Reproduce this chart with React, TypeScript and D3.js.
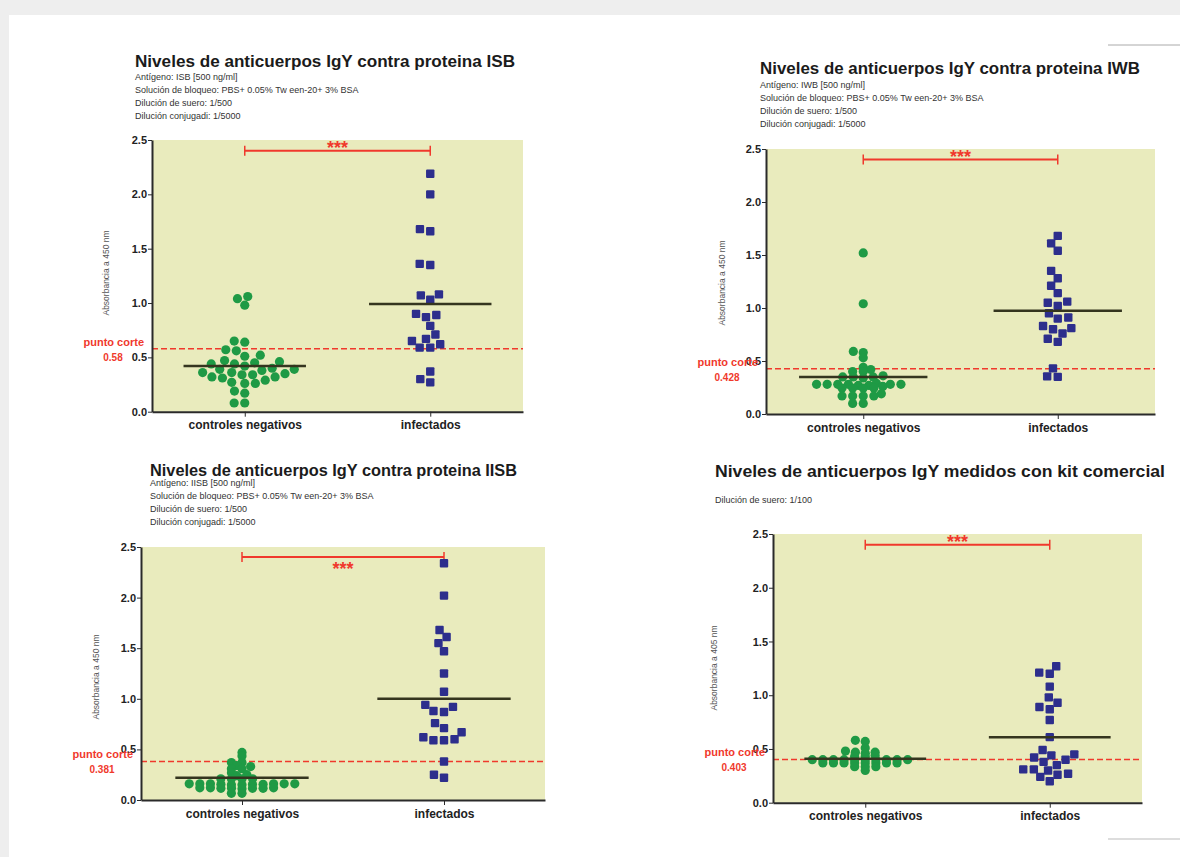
import React, { useEffect, useRef } from 'react';
import * as d3 from 'd3';

// categories and axis ticks shared by all four panels
const categories = ['controles negativos', 'infectados'];
const yTicks = [0, 0.5, 1, 1.5, 2, 2.5];

// absorbance values
const isbControles = [1.06, 1.04, 0.98, 0.65, 0.64, 0.57, 0.56, 0.52, 0.51, 0.47, 0.46, 0.45, 0.44, 0.44, 0.42, 0.4, 0.39, 0.39, 0.38, 0.36, 0.36, 0.35, 0.34, 0.34, 0.32, 0.32, 0.31, 0.29, 0.27, 0.26, 0.26, 0.19, 0.17, 0.08, 0.08];
const isbInfectados = [2.19, 2.0, 1.68, 1.66, 1.36, 1.35, 1.08, 1.07, 1.03, 0.9, 0.89, 0.87, 0.79, 0.71, 0.67, 0.65, 0.62, 0.59, 0.59, 0.37, 0.3, 0.27];

const iwbControles = [1.52, 1.04, 0.59, 0.58, 0.53, 0.44, 0.42, 0.4, 0.4, 0.36, 0.35, 0.35, 0.35, 0.34, 0.29, 0.28, 0.28, 0.28, 0.28, 0.28, 0.27, 0.27, 0.28, 0.26, 0.245, 0.245, 0.245, 0.245, 0.19, 0.17, 0.17, 0.17, 0.17, 0.1, 0.1];
const iwbInfectados = [1.68, 1.61, 1.54, 1.35, 1.28, 1.21, 1.14, 1.06, 1.05, 1.02, 0.95, 0.91, 0.9, 0.83, 0.81, 0.8, 0.76, 0.71, 0.68, 0.43, 0.355, 0.35];

const iisbControles = [0.47, 0.435, 0.37, 0.37, 0.34, 0.33, 0.31, 0.31, 0.27, 0.25, 0.24, 0.21, 0.21, 0.21, 0.21, 0.16, 0.155, 0.16, 0.15, 0.155, 0.16, 0.15, 0.16, 0.155, 0.16, 0.16, 0.12, 0.115, 0.115, 0.12, 0.11, 0.115, 0.12, 0.115, 0.066, 0.066];
const iisbInfectados = [2.34, 2.02, 1.68, 1.61, 1.55, 1.47, 1.25, 1.07, 0.94, 0.92, 0.88, 0.87, 0.76, 0.71, 0.67, 0.62, 0.6, 0.59, 0.59, 0.38, 0.25, 0.22];

const kitControles = [0.58, 0.57, 0.51, 0.48, 0.47, 0.47, 0.46, 0.44, 0.43, 0.43, 0.4, 0.4, 0.4, 0.4, 0.4, 0.4, 0.4, 0.4, 0.4, 0.4, 0.37, 0.37, 0.37, 0.37, 0.37, 0.37, 0.37, 0.37, 0.335, 0.335, 0.335, 0.3];
const kitInfectados = [1.27, 1.21, 1.2, 1.08, 0.98, 0.93, 0.89, 0.87, 0.77, 0.61, 0.49, 0.45, 0.44, 0.42, 0.4, 0.38, 0.35, 0.31, 0.31, 0.3, 0.27, 0.26, 0.24, 0.2];

const controles = [isbControles, iwbControles, iisbControles, kitControles];
const infectados = [isbInfectados, iwbInfectados, iisbInfectados, kitInfectados];
const meanControles = [0.42, 0.35, 0.22, 0.41];
const meanInfectados = [0.99, 0.975, 1.0, 0.61];
const cutoffs = [0.58, 0.428, 0.381, 0.403];
const cutoffLabels = ['0.58', '0.428', '0.381', '0.403'];
const sigLevel = 2.4;

const titles = [
  'Niveles de anticuerpos IgY contra proteina ISB',
  'Niveles de anticuerpos IgY contra proteina IWB',
  'Niveles de anticuerpos IgY contra proteina IISB',
  'Niveles de anticuerpos IgY medidos con kit comercial',
];
const subtitles = [
  ['Antígeno: ISB [500 ng/ml]', 'Solución de bloqueo: PBS+ 0.05% Tw een-20+ 3% BSA', 'Dilución de suero: 1/500', 'Dilución conjugadi: 1/5000'],
  ['Antígeno: IWB [500 ng/ml]', 'Solución de bloqueo: PBS+ 0.05% Tw een-20+ 3% BSA', 'Dilución de suero: 1/500', 'Dilución conjugadi: 1/5000'],
  ['Antígeno: IISB [500 ng/ml]', 'Solución de bloqueo: PBS+ 0.05% Tw een-20+ 3% BSA', 'Dilución de suero: 1/500', 'Dilución conjugadi: 1/5000'],
  ['Dilución de suero: 1/100'],
];
const yLabels = ['Absorbancia a 450 nm', 'Absorbancia a 450 nm', 'Absorbancia a 450 nm', 'Absorbancia a 405 nm'];

// where each panel sits on the page; ry = how close two rows of dots may sit before they push apart
const layout = [
  { axisX: 152, right: 523, top: 140, bottom: 411.7, titleX: 135, titleY: 67, titleW: 380, subY: 80, ylabX: 109, ylabY: 273, starsBelow: false, ry: 9 },
  { axisX: 766, right: 1155, top: 149, bottom: 414, titleX: 760, titleY: 74, titleW: 380, subY: 88, ylabX: 725, ylabY: 283, starsBelow: false, ry: 3 },
  { axisX: 141, right: 545, top: 547, bottom: 800, titleX: 150, titleY: 476, titleW: 367, subY: 486, ylabX: 99, ylabY: 677, starsBelow: true, ry: 3.5 },
  { axisX: 773, right: 1142, top: 534, bottom: 802.7, titleX: 715, titleY: 477, titleW: 450, subY: 503, ylabX: 717, ylabY: 668, starsBelow: false, ry: 3 },
];

const FONT = '"Liberation Sans", Arial, sans-serif';
const RED = '#f0392c';

// beeswarm with an elliptical footprint (step wide, ry tall)
function swarm(ys: number[], step: number, ry: number) {
  const order = ys.map((_, i) => i).sort((a, b) => ys[b] - ys[a]);
  const placed: { x: number; y: number }[] = [];
  const out = new Array(ys.length).fill(0);
  const hits = (cx: number, cy: number) =>
    placed.some((p) => ((p.x - cx) / step) ** 2 + ((p.y - cy) / ry) ** 2 < 0.999);
  order.forEach((i) => {
    const py = ys[i];
    const cands = [0];
    placed.forEach((p) => {
      const dy = Math.abs(p.y - py);
      if (dy < ry) {
        const dx = step * Math.sqrt(1 - (dy / ry) ** 2);
        cands.push(p.x + dx, p.x - dx);
      }
    });
    cands.sort((a, b) => Math.abs(a) - Math.abs(b) || a - b);
    const x = cands.find((cx) => !hits(cx, py)) ?? 0;
    placed.push({ x, y: py });
    out[i] = x;
  });
  return out;
}

function App() {
  const svgRef = useRef(null);

  useEffect(() => {
    if (!svgRef.current) return;
    const svg = d3.select(svgRef.current);
    svg.selectAll('*').remove();

    // scanned page look
    svg.append('rect').attr('width', 1180).attr('height', 857).attr('fill', '#eeeeee');
    svg.append('rect').attr('x', 9).attr('y', 15).attr('width', 1171).attr('height', 842).attr('fill', '#ffffff');
    svg.append('line').attr('x1', 1108).attr('x2', 1180).attr('y1', 45).attr('y2', 45).attr('stroke', '#aaa');
    svg.append('line').attr('x1', 1108).attr('x2', 1180).attr('y1', 839).attr('y2', 839).attr('stroke', '#bbb');

    layout.forEach((L, i) => {
      const g = svg.append('g');
      const y = d3.scaleLinear().domain([0, 2.5]).range([L.bottom, L.top]);
      const x = d3.scalePoint().domain(categories).range([L.axisX, L.right]).padding(0.5);
      const step = x.step();

      // titles
      g.append('text').attr('x', L.titleX).attr('y', L.titleY)
        .attr('font-family', FONT).attr('font-size', 16).attr('font-weight', 'bold').attr('fill', '#1b1b1b')
        .attr('textLength', L.titleW).attr('lengthAdjust', 'spacingAndGlyphs')
        .text(titles[i]);
      subtitles[i].forEach((s, k) => {
        g.append('text').attr('x', L.titleX).attr('y', L.subY + k * 13)
          .attr('font-family', FONT).attr('font-size', 9).attr('fill', '#333')
          .text(s);
      });

      // plot background
      g.append('rect').attr('x', L.axisX).attr('y', L.top)
        .attr('width', L.right - L.axisX).attr('height', L.bottom - L.top)
        .attr('fill', '#e9ebbd');

      // cut-off line
      const cyv = y(cutoffs[i]);
      g.append('line').attr('x1', L.axisX).attr('x2', L.right)
        .attr('y1', cyv).attr('y2', cyv)
        .attr('stroke', RED).attr('stroke-width', 1.5).attr('stroke-dasharray', '6,3');

      // significance bracket
      const x0 = x(categories[0]);
      const x1 = x(categories[1]);
      const sy = y(sigLevel);
      g.append('line').attr('x1', x0).attr('x2', x1).attr('y1', sy).attr('y2', sy)
        .attr('stroke', RED).attr('stroke-width', 2);
      [x0, x1].forEach((cx) => {
        g.append('line').attr('x1', cx).attr('x2', cx).attr('y1', sy - 5).attr('y2', sy + 5)
          .attr('stroke', RED).attr('stroke-width', 1.5);
      });
      g.append('text').attr('x', (x0 + x1) / 2).attr('y', L.starsBelow ? sy + 18 : sy + 3)
        .attr('text-anchor', 'middle').attr('font-family', FONT).attr('font-size', 18)
        .attr('font-weight', 'bold').attr('fill', RED).text('***');

      // green circles
      const cy = controles[i].map((v) => y(v));
      const cOff = swarm(cy, 10.6, L.ry);
      g.selectAll('circle.c').data(controles[i]).enter().append('circle')
        .attr('cx', (_, k) => x0 + cOff[k]).attr('cy', (d) => y(d)).attr('r', 4.6)
        .attr('fill', '#1f9a45');

      // blue squares
      const iy = infectados[i].map((v) => y(v));
      const iOff = swarm(iy, 10.6, 9.5);
      g.selectAll('rect.i').data(infectados[i]).enter().append('rect')
        .attr('x', (_, k) => x1 + iOff[k] - 4.2).attr('y', (d) => y(d) - 4.2)
        .attr('width', 8.4).attr('height', 8.4).attr('rx', 1)
        .attr('fill', '#2d2e8c');

      // mean lines
      [[x0, meanControles[i]], [x1, meanInfectados[i]]].forEach(([cx, m]) => {
        g.append('line').attr('x1', cx - step * 0.33).attr('x2', cx + step * 0.33)
          .attr('y1', y(m)).attr('y2', y(m))
          .attr('stroke', '#35351f').attr('stroke-width', 2.5);
      });

      // axes
      const ya = g.append('g').attr('transform', `translate(${L.axisX},0)`)
        .call(d3.axisLeft(y).tickValues(yTicks).tickFormat(d3.format('.1f')).tickSize(4).tickSizeOuter(0).tickPadding(1));
      ya.selectAll('text').attr('font-family', FONT).attr('font-size', 11).attr('font-weight', 'bold').attr('fill', '#222');
      ya.select('.domain').attr('stroke', '#2a2a2a').attr('stroke-width', 2);
      ya.selectAll('.tick line').attr('stroke', '#2a2a2a');

      const xa = g.append('g').attr('transform', `translate(0,${L.bottom})`)
        .call(d3.axisBottom(x).tickSize(5).tickSizeOuter(0).tickPadding(4));
      xa.selectAll('text').attr('font-family', FONT).attr('font-size', 12).attr('font-weight', 'bold').attr('fill', '#222');
      xa.select('.domain').attr('stroke', '#2a2a2a').attr('stroke-width', 2);
      xa.selectAll('.tick line').attr('stroke', '#2a2a2a');

      // y label
      g.append('text').attr('transform', `translate(${L.ylabX},${L.ylabY}) rotate(-90)`)
        .attr('text-anchor', 'middle').attr('font-family', FONT).attr('font-size', 8.5).attr('fill', '#555')
        .text(yLabels[i]);

      // cut-off label
      g.append('text').attr('x', L.axisX - 8).attr('y', cyv - 3).attr('text-anchor', 'end')
        .attr('font-family', FONT).attr('font-size', 11).attr('font-weight', 'bold').attr('fill', RED)
        .text('punto corte');
      g.append('text').attr('x', L.axisX - 39).attr('y', cyv + 12).attr('text-anchor', 'middle')
        .attr('font-family', FONT).attr('font-size', 10).attr('font-weight', 'bold').attr('fill', RED)
        .text(cutoffLabels[i]);
    });
  }, []);

  return (
    <svg ref={svgRef} width={1180} height={857} style={{ position: 'absolute', left: 0, top: 0 }} />
  );
}

export default App;
